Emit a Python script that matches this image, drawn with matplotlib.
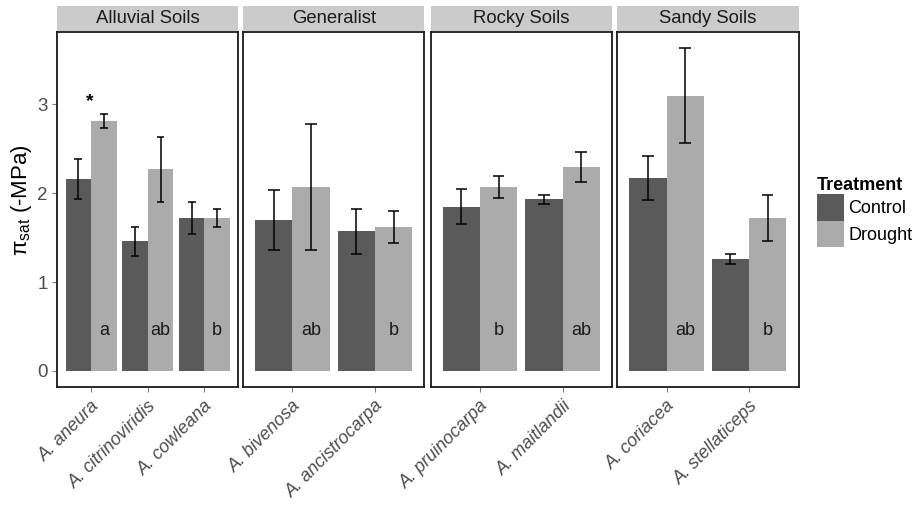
import numpy as np
import matplotlib
matplotlib.use('Agg')
import matplotlib.pyplot as plt
from matplotlib.patches import Rectangle, Patch

plt.rcParams['font.family'] = ['Liberation Sans', 'DejaVu Sans']
plt.rcParams['mathtext.fontset'] = 'custom'
plt.rcParams['mathtext.rm'] = 'Liberation Sans'
plt.rcParams['mathtext.it'] = 'Liberation Sans:italic'

# osmotic potential at full turgor, mean and SE per species
habitats = ['Alluvial Soils', 'Generalist', 'Rocky Soils', 'Sandy Soils']
species = ['A. aneura', 'A. citrinoviridis', 'A. cowleana',
           'A. bivenosa', 'A. ancistrocarpa',
           'A. pruinocarpa', 'A. maitlandii',
           'A. coriacea', 'A. stellaticeps']
habitat = ['Alluvial Soils'] * 3 + ['Generalist'] * 2 + ['Rocky Soils'] * 2 + ['Sandy Soils'] * 2
control_mean = [2.16, 1.46, 1.72, 1.70, 1.57, 1.85, 1.93, 2.17, 1.26]
control_se = [0.225, 0.163, 0.178, 0.34, 0.257, 0.199, 0.048, 0.245, 0.057]
drought_mean = [2.81, 2.27, 1.72, 2.07, 1.62, 2.07, 2.30, 3.10, 1.72]
drought_se = [0.078, 0.368, 0.10, 0.71, 0.176, 0.119, 0.17, 0.534, 0.255]
letters = ['a', 'ab', 'b', 'ab', 'b', 'b', 'ab', 'ab', 'b']
signif = ['*', '', '', '', '', '', '', '', '']

col_ctrl = '#5a5a5a'
col_drt = '#ababab'
W, H = 916, 507

fig = plt.figure(figsize=(W / 100, H / 100), dpi=100)

top_px, bot_px = 32, 387
lefts = [57, 243, 430.5, 617]
pw = 181.5

hi = max(np.array(drought_mean) + np.array(drought_se))
ylim = (-0.05 * hi, hi * 1.05)

for k, hab in enumerate(habitats):
    ax = fig.add_axes([lefts[k] / W, 1 - bot_px / H, pw / W, (bot_px - top_px) / H])
    idx = [i for i, h in enumerate(habitat) if h == hab]
    x = np.arange(1, len(idx) + 1)
    cm = np.array([control_mean[i] for i in idx])
    cs = np.array([control_se[i] for i in idx])
    dm = np.array([drought_mean[i] for i in idx])
    ds = np.array([drought_se[i] for i in idx])

    ax.bar(x - 0.225, cm, width=0.45, color=col_ctrl, zorder=2)
    ax.bar(x + 0.225, dm, width=0.45, color=col_drt, zorder=2)
    for xs, m, s in [(x - 0.225, cm, cs), (x + 0.225, dm, ds)]:
        ax.vlines(xs, m - s, m + s, color='black', lw=1.1, zorder=3)
        ax.hlines(m - s, xs - 0.07, xs + 0.07, color='black', lw=1.1, zorder=3)
        ax.hlines(m + s, xs - 0.07, xs + 0.07, color='black', lw=1.1, zorder=3)

    for j, i in enumerate(idx):
        ax.text(x[j] + 0.225, 0.46, letters[i], ha='center', va='center',
                fontsize=13, color='#1a1a1a', zorder=4)
        if signif[i]:
            ax.text(x[j] - 0.02, 3.03, signif[i], ha='center', va='center',
                    fontsize=14, fontweight='bold', color='black', zorder=4)

    ax.set_xlim(0.4, len(idx) + 0.6)
    ax.set_ylim(*ylim)
    ax.set_xticks(x)
    ax.set_xticklabels([species[i] for i in idx], rotation=45, ha='right', va='top',
                       rotation_mode='anchor', fontsize=13, style='italic', color='#4d4d4d')
    ax.tick_params(axis='x', length=3.5, width=0.8, color='#7f7f7f', pad=4)
    if k == 0:
        ax.set_yticks([0, 1, 2, 3])
        ax.tick_params(axis='y', length=3.5, width=0.8, color='#7f7f7f', pad=3,
                       labelsize=13.5, labelcolor='#4d4d4d')
    else:
        ax.set_yticks([])
    for sp in ax.spines.values():
        sp.set_color('#1a1a1a')
        sp.set_linewidth(1.3)

    # facet strip
    sh = 25 / (bot_px - top_px)
    ax.add_patch(Rectangle((0, 1 + 1 / (bot_px - top_px)), 1, sh, transform=ax.transAxes,
                           facecolor='#cbcbcb', edgecolor='none', clip_on=False))
    ax.text(0.5, 1 + 1 / (bot_px - top_px) + sh / 2, hab, transform=ax.transAxes,
            ha='center', va='center', fontsize=13.3, color='#1a1a1a')

fig.text(22 / W, 1 - 200 / H, r'$\mathrm{π}_{\mathrm{sat}}$ (-MPa)', rotation=90,
         ha='center', va='center', fontsize=16, color='black')

handles = [Patch(facecolor=col_ctrl, edgecolor='none'), Patch(facecolor=col_drt, edgecolor='none')]
leg = fig.legend(handles, ['Control', 'Drought'], title='Treatment', loc='center left',
                 bbox_to_anchor=(817 / W, 1 - 212 / H), frameon=False, fontsize=13,
                 title_fontproperties={'weight': 'bold', 'size': 13},
                 handlelength=1.5, handleheight=1.92, handletextpad=0.25,
                 labelspacing=0.0, borderpad=0, borderaxespad=0, alignment='left')

fig.savefig('out.png', dpi=100)
